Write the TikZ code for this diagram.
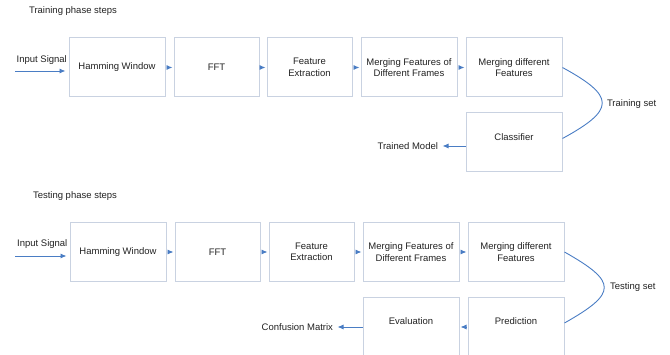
\documentclass[tikz,border=0pt]{standalone}
\usepackage{fontspec}
\setmainfont{Liberation Sans}
\usepackage{tikz}
\usetikzlibrary{positioning,arrows.meta}
\definecolor{boxc}{HTML}{C9D2E1}
\definecolor{arrc}{HTML}{4A7DC4}
\definecolor{txtc}{HTML}{222222}

\begin{document}
\begin{tikzpicture}[x=1pt, y=-1pt,
        font=\fontsize{9.5}{11.5}\selectfont, text=txtc,
        box/.style = {draw=boxc, line width=1pt, minimum height=59pt, align=center, inner sep=2pt},
        wide/.style = {box, minimum width=96pt},
        narrow/.style = {box, minimum width=85pt},
        low/.style = {text depth=11pt},
        flow/.style = {draw=arrc, line width=0.9pt, -{Latex[length=6pt,width=5pt]}},
        curveline/.style = {draw=arrc, line width=0.9pt},
        node distance={8pt}]
    \useasboundingbox (0,0) rectangle (670,355);
    \clip (0,0) rectangle (670,355);

    % training
    \node (t1) at (73,11.5) {Training phase steps};
    \node[wide] (hw1) at (117,67.5) {Hamming Window};
    \node[narrow] (fft1) [right=8pt of hw1] {FFT};
    \node[narrow] (fe1) [right=7pt of fft1] {Feature\\Extraction};
    \node[wide] (mf1) [right=8pt of fe1] {Merging Features of\\Different Frames};
    \node[wide] (md1) [right=8pt of mf1] {Merging different\\Features};
    \node[wide, low] (cl) [below=15pt of md1] {Classifier};
    \node (tm) [left=24pt of cl, yshift=-3.5pt] {Trained Model};
    \coordinate (in1) at (15,71);

    \draw[flow, shorten >=3pt] (in1) -- (in1 -| hw1.west) node[midway, above=3pt] (is1) {Input Signal};
    \draw[flow, shorten <=1pt, shorten >=1pt] (hw1) -- (fft1);
    \draw[flow, shorten <=1pt, shorten >=1pt] (fft1) -- (fe1);
    \draw[flow, shorten <=1pt, shorten >=1pt] (fe1) -- (mf1);
    \draw[flow, shorten <=1pt, shorten >=1pt] (mf1) -- (md1);
    \draw[curveline] (md1.east) .. controls +(53,29) and +(53,-29) .. ([yshift=4pt]cl.east)
        node[pos=0.5, right=1pt, yshift=-1.5pt] (ts1) {Training set};
    \draw[flow, shorten >=1pt] (cl.west |- tm) -- (tm);

    % testing
    \node (t2) at (75,196.5) {Testing phase steps};
    \node[wide] (hw2) at (118,252) {Hamming Window};
    \node[narrow] (fft2) [right=8pt of hw2] {FFT};
    \node[narrow] (fe2) [right=8pt of fft2] {Feature\\Extraction};
    \node[wide] (mf2) [right=8pt of fe2] {Merging Features of\\Different Frames};
    \node[wide] (md2) [right=8pt of mf2] {Merging different\\Features};
    \node[wide, low] (pr) [below=15pt of md2] {Prediction};
    \node[wide, low] (ev) [left=8pt of pr] {Evaluation};
    \node (cm) [left=26pt of ev] {Confusion Matrix};
    \coordinate (in2) at (15,256);

    \draw[flow, shorten >=3pt] (in2) -- (in2 -| hw2.west) node[midway, above=3.5pt] (is2) {Input Signal};
    \draw[flow, shorten <=1pt, shorten >=1pt] (hw2) -- (fft2);
    \draw[flow, shorten <=1pt, shorten >=1pt] (fft2) -- (fe2);
    \draw[flow, shorten <=1pt, shorten >=1pt] (fe2) -- (mf2);
    \draw[flow, shorten <=1pt, shorten >=1pt] (mf2) -- (md2);
    \draw[curveline] (md2.east) .. controls +(53,30) and +(53,-30) .. ([yshift=4pt]pr.east)
        node[pos=0.5, right=2pt] (ts2) {Testing set};
    \draw[flow, shorten <=1pt, shorten >=1pt] (pr) -- (ev);
    \draw[flow, shorten >=1pt] (ev) -- (cm);
\end{tikzpicture}
\end{document}
